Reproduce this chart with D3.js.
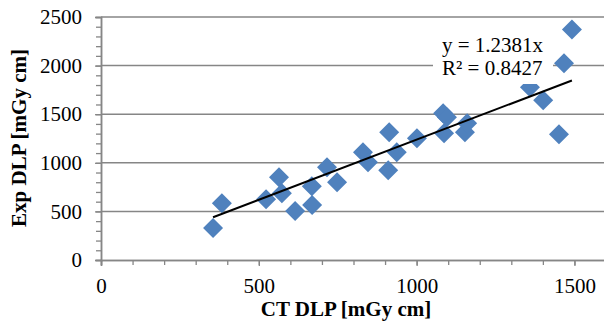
<!DOCTYPE html>
<html>
<head>
<meta charset="utf-8">
<script src="https://cdn.jsdelivr.net/npm/d3@7"></script>
<style>
  body { margin: 0; background: #fff; }
  #chart { width: 604px; height: 322px; overflow: hidden; }
  text { font-family: "Liberation Serif", "Times New Roman", serif; fill: #000; }
</style>
</head>
<body>
<div id="chart"></div>
<script>
// CT DLP vs Exp DLP
const ctDlp = [355, 383, 523, 564, 573, 615, 668, 669, 716, 748, 830, 846, 910, 913, 937, 1001, 1084, 1087, 1096, 1153, 1160, 1359, 1401, 1451, 1467, 1492];
const expDlp = [329, 585, 626, 852, 688, 503, 760, 565, 955, 801, 1109, 1006, 924, 1314, 1109, 1253, 1509, 1304, 1468, 1314, 1406, 1776, 1643, 1294, 2023, 2372];
const xTicks = [0, 500, 1000, 1500];
const yTicks = [0, 500, 1000, 1500, 2000, 2500];
const slope = 1.2381;
const trendLabel = ["y = 1.2381x", "R\u00b2 = 0.8427"];

const margin = { top: 17, right: 0, bottom: 62, left: 101 };
const width = 505;
const height = 243;
const gray = "#868686";

const svg = d3.select("#chart")
    .append("svg")
    .attr("width", 604)
    .attr("height", 322);

const g = svg.append("g")
    .attr("transform", `translate(${margin.left},${margin.top})`);

const x = d3.scaleLinear().domain([0, 1600]).range([0, width]);
const y = d3.scaleLinear().domain([0, 2500]).range([height, 0]);

// horizontal gridlines
g.selectAll(".grid")
    .data(yTicks.filter(d => d > 0))
    .enter()
    .append("line")
    .attr("x1", 0)
    .attr("x2", width)
    .attr("y1", d => y(d))
    .attr("y2", d => y(d))
    .attr("stroke", gray)
    .attr("stroke-width", 1.5);

// minor ticks
const yAxisG = g.append("g")
    .call(d3.axisLeft(y).tickValues(d3.range(0, 2501, 100)).tickSize(5).tickFormat(""));
const xAxisG = g.append("g")
    .attr("transform", `translate(0,${height})`)
    .call(d3.axisBottom(x).tickValues(d3.range(0, 1601, 100)).tickSize(5).tickFormat(""));

// major ticks with labels
const yMajor = g.append("g")
    .call(d3.axisLeft(y).tickValues(yTicks).tickSize(6).tickPadding(13).tickFormat(d3.format("d")));
const xMajor = g.append("g")
    .attr("transform", `translate(0,${height})`)
    .call(d3.axisBottom(x).tickValues(xTicks).tickSize(6).tickPadding(12).tickFormat(d3.format("d")));

[yAxisG, xAxisG, yMajor, xMajor].forEach(a => {
  a.select(".domain").attr("stroke", gray).attr("stroke-width", 1.5);
  a.selectAll(".tick line").attr("stroke", gray).attr("stroke-width", 1.3);
  a.selectAll("text")
      .style("font-family", '"Liberation Serif", "Times New Roman", serif')
      .style("font-size", "21px")
      .attr("fill", "#000");
});

// points
g.selectAll(".pt")
    .data(ctDlp.map((c, i) => [c, expDlp[i]]))
    .enter()
    .append("path")
    .attr("d", d3.symbol(d3.symbolSquare, 200))
    .attr("transform", d => `translate(${x(d[0])},${y(d[1])}) rotate(45)`)
    .attr("fill", "#4F81BD");

// linear trend through origin
const xMin = d3.min(ctDlp), xMax = d3.max(ctDlp);
g.append("line")
    .attr("x1", x(xMin))
    .attr("y1", y(slope * xMin))
    .attr("x2", x(xMax))
    .attr("y2", y(slope * xMax))
    .attr("stroke", "#000")
    .attr("stroke-width", 2);

// trend label with white box
const lab = svg.append("g");
lab.append("rect")
    .attr("x", 433).attr("y", 31)
    .attr("width", 120).attr("height", 53)
    .attr("fill", "#fff");
lab.selectAll("text")
    .data(trendLabel)
    .enter()
    .append("text")
    .attr("x", 442)
    .attr("y", (d, i) => 52 + i * 23)
    .style("font-size", "21px")
    .text(d => d);

// axis titles
svg.append("text")
    .attr("x", 346)
    .attr("y", 316)
    .attr("text-anchor", "middle")
    .style("font-size", "21px")
    .style("font-weight", "bold")
    .text("CT DLP [mGy cm]");

svg.append("text")
    .attr("transform", "translate(26,138) rotate(-90)")
    .attr("text-anchor", "middle")
    .style("font-size", "21px")
    .style("font-weight", "bold")
    .text("Exp DLP [mGy cm]");
</script>
</body>
</html>
